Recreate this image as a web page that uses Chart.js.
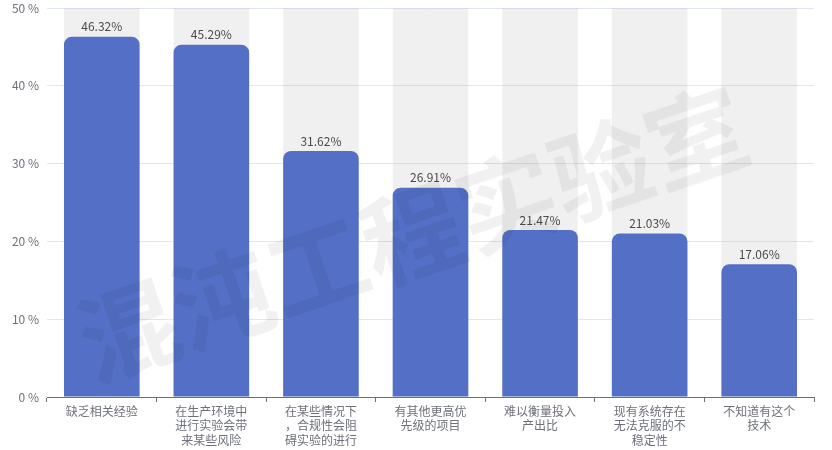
<!DOCTYPE html>
<html>
<head>
<meta charset="utf-8">
<script src="https://cdn.jsdelivr.net/npm/chart.js@4"></script>
<style>
  html, body { margin: 0; padding: 0; background: #fff; }
  #wrap { width: 832px; height: 450px; }
</style>
</head>
<body>
<div id="wrap"><canvas id="myChart"></canvas></div>
<script>
const categories = [
  '缺乏相关经验',
  ['在生产环境中', '进行实验会带', '来某些风险'],
  ['在某些情况下', '，合规性会阻', '碍实验的进行'],
  ['有其他更高优', '先级的项目'],
  ['难以衡量投入', '产出比'],
  ['现有系统存在', '无法克服的不', '稳定性'],
  ['不知道有这个', '技术']
];
const percents = [46.32, 45.29, 31.62, 26.91, 21.47, 21.03, 17.06];
const backgroundMax = [50, 50, 50, 50, 50, 50, 50];
const yTicks = [0, 10, 20, 30, 40, 50];

const FONT = '"Microsoft YaHei", "Noto Sans CJK SC", sans-serif';

// value labels above the bars
const valueLabels = {
  id: 'valueLabels',
  afterDatasetsDraw(chart) {
    const ctx = chart.ctx;
    const meta = chart.getDatasetMeta(1);
    ctx.save();
    ctx.font = '12px ' + FONT;
    ctx.fillStyle = '#4a4a4a';
    ctx.textAlign = 'center';
    ctx.textBaseline = 'bottom';
    meta.data.forEach((bar, i) => {
      ctx.fillText(percents[i].toFixed(2) + '%', bar.x, bar.y - 4);
    });
    ctx.restore();
  }
};

// rotated watermark
const watermark = {
  id: 'watermark',
  afterDraw(chart) {
    const ctx = chart.ctx;
    ctx.save();
    ctx.translate(412, 234);
    ctx.rotate(-18.8 * Math.PI / 180);
    ctx.font = 'bold 100px ' + FONT;
    ctx.fillStyle = 'rgba(0,0,0,0.055)';
    ctx.textAlign = 'center';
    ctx.textBaseline = 'middle';
    ctx.fillText('混沌工程实验室', 0, 0);
    ctx.restore();
  }
};

var chartContext = document.getElementById('myChart').getContext('2d');
var myChart = new Chart(chartContext, {
  type: 'bar',
  data: {
    labels: categories,
    datasets: [{
      data: backgroundMax,
      backgroundColor: 'rgba(180,180,180,0.2)',
      order: 2
    }, {
      data: percents,
      backgroundColor: '#5470c6',
      borderRadius: { topLeft: 8, topRight: 8 },
      borderSkipped: 'bottom',
      order: 1
    }]
  },
  options: {
    responsive: true,
    maintainAspectRatio: false,
    animation: false,
    events: [],
    grouped: false,
    categoryPercentage: 0.69,
    barPercentage: 1,
    layout: { padding: { top: 8, right: 18, left: 0, bottom: 0 } },
    plugins: {
      legend: { display: false },
      tooltip: { enabled: false }
    },
    scales: {
      x: {
        grid: {
          offset: true,
          drawOnChartArea: false,
          color: '#6E7079',
          tickLength: 5
        },
        border: { color: '#6E7079' },
        ticks: {
          color: '#6E7079',
          font: { family: FONT, size: 12 },
          maxRotation: 0,
          autoSkip: false,
          padding: 2
        },
        afterFit(scale) { scale.height = 53; }
      },
      y: {
        min: 0,
        max: 50,
        afterBuildTicks(scale) { scale.ticks = yTicks.map(v => ({ value: v })); },
        grid: { color: '#E0E6F1', drawTicks: false },
        border: { display: false },
        ticks: {
          color: '#6E7079',
          font: { family: FONT, size: 12 },
          padding: 8,
          callback: v => v + ' %'
        },
        afterFit(scale) {
          scale.width = 47;
          scale.paddingTop = 0;
          scale.paddingBottom = 0;
        }
      }
    }
  },
  plugins: [valueLabels, watermark]
});
</script>
</body>
</html>
